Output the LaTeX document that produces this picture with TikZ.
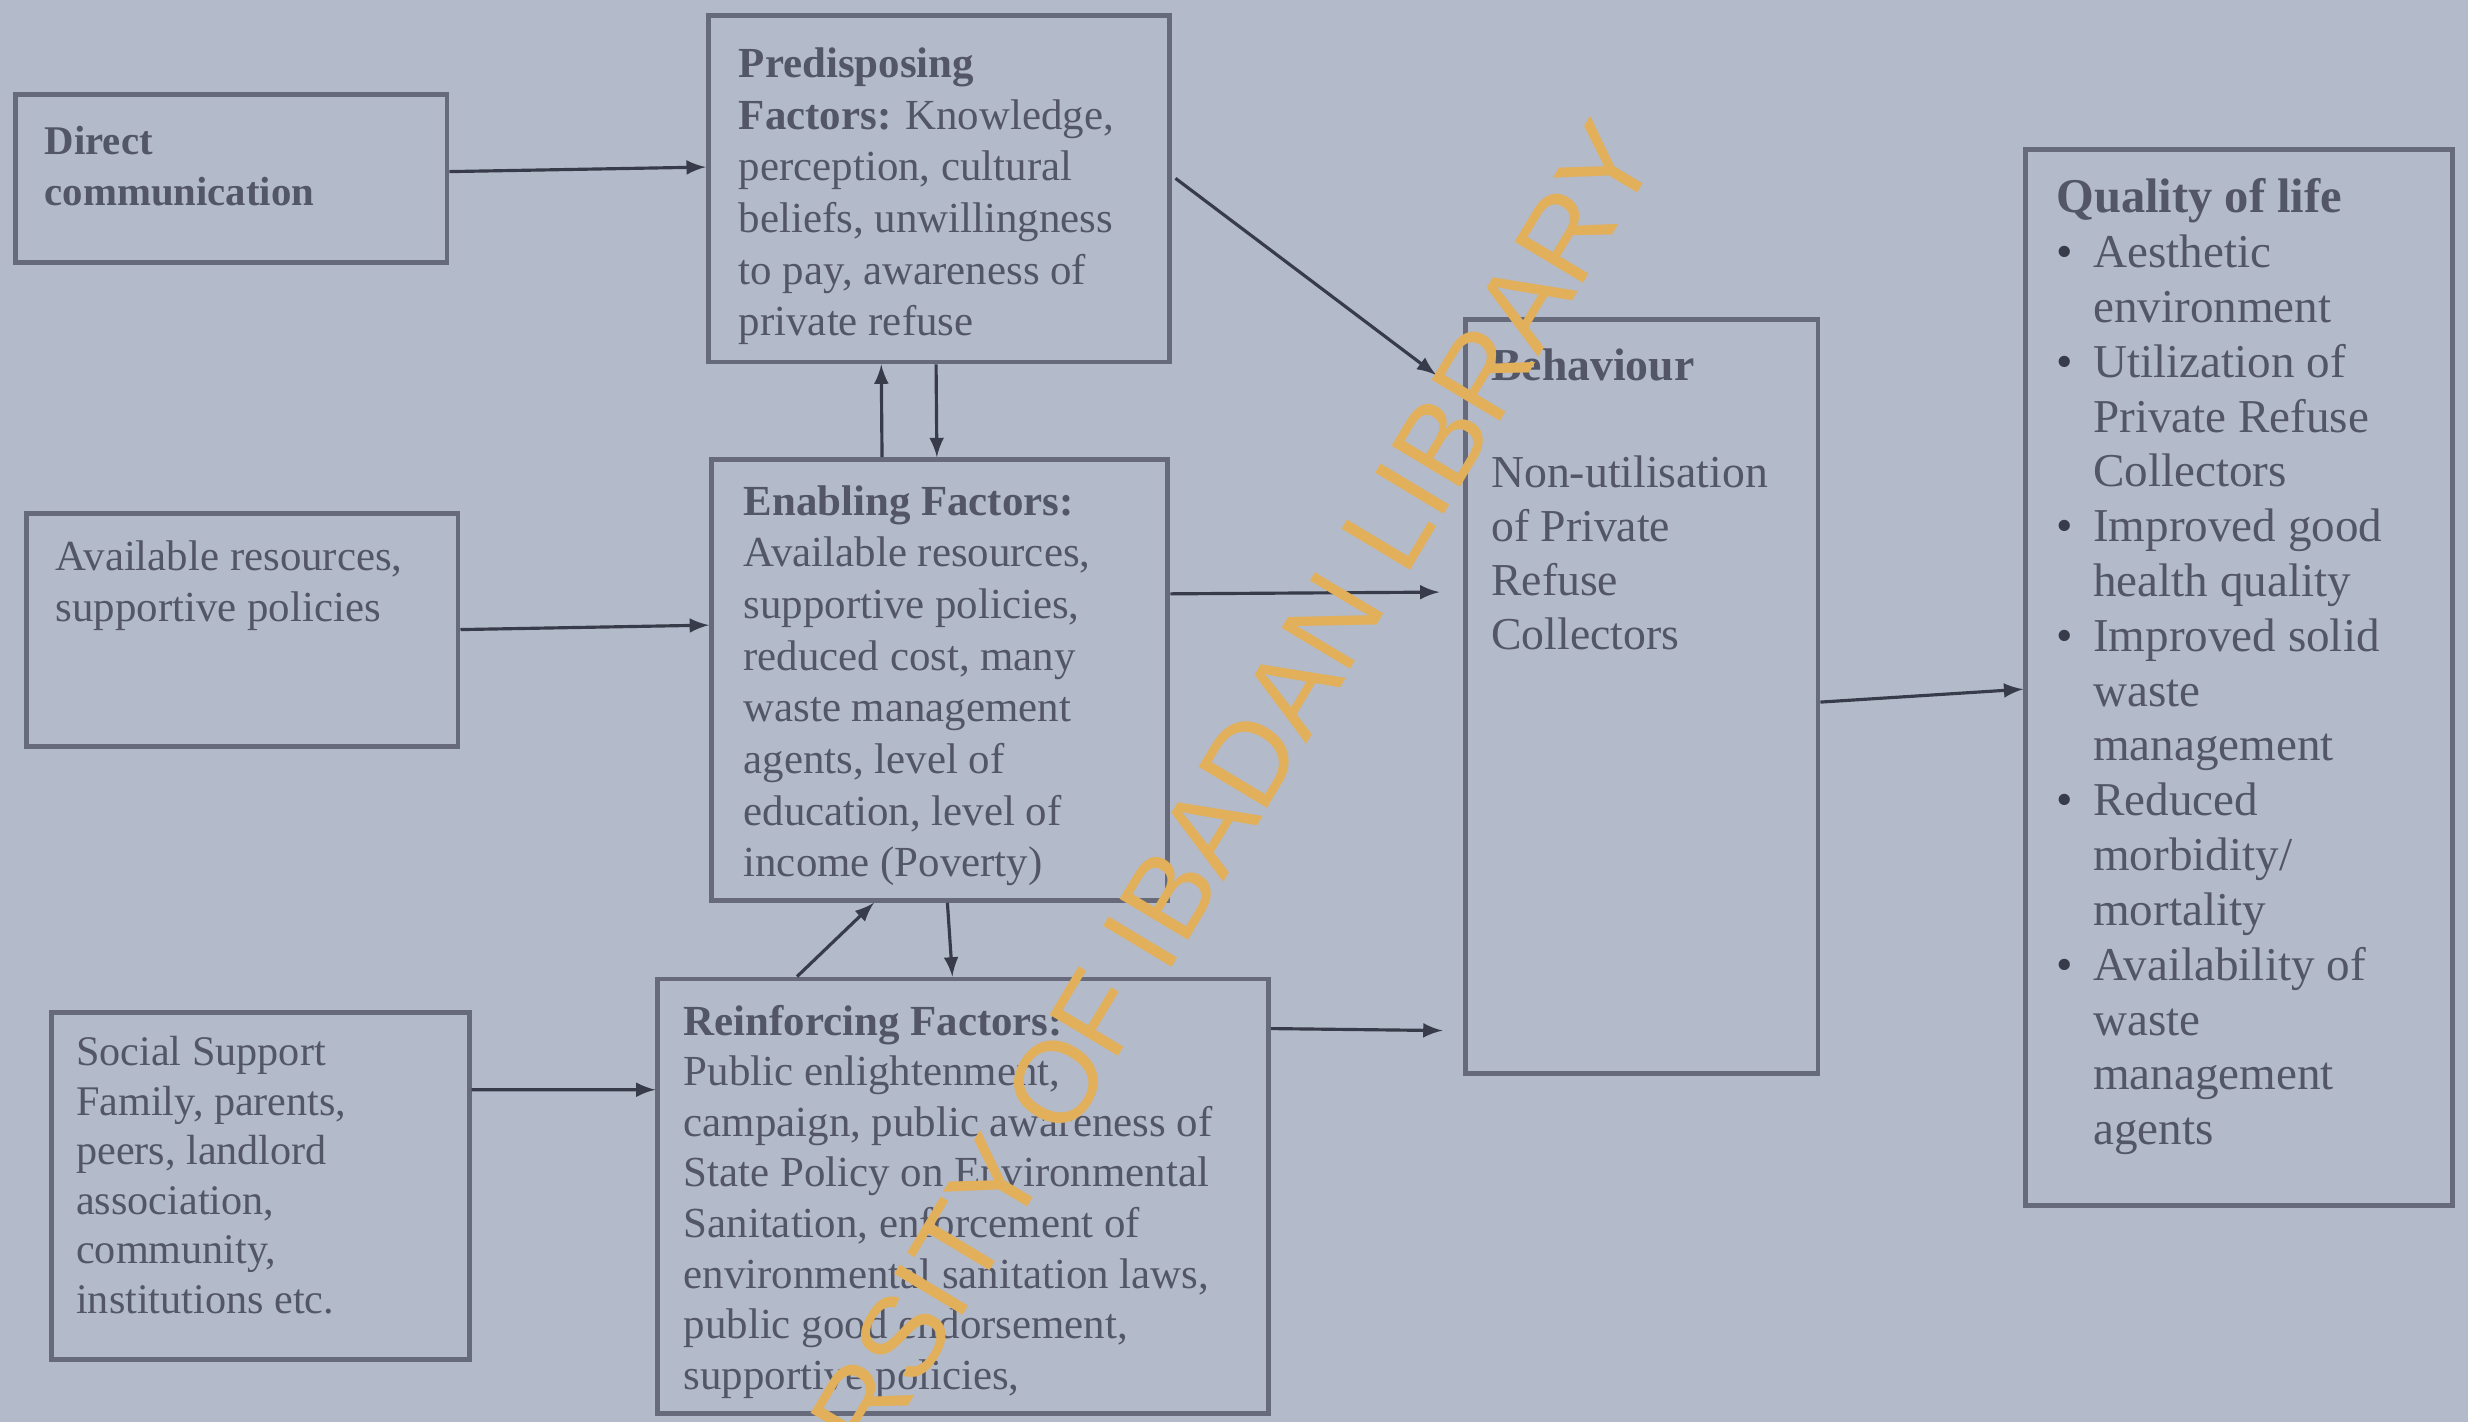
\documentclass[tikz,border=0pt]{standalone}
\usepackage{fontspec}
\setmainfont{Liberation Serif}
\newfontfamily\stampfont{Liberation Sans}
\usetikzlibrary{fit}
\definecolor{paper}{RGB}{179,186,202}
\definecolor{ink}{RGB}{82,86,102}
\definecolor{edge}{RGB}{102,106,122}
\definecolor{dark}{RGB}{56,59,74}
\definecolor{stamp}{RGB}{226,176,90}
\newcommand{\qlbul}{\makebox[10.5pt][l]{\textcolor{dark}{\textbullet}}}
\newcommand{\qlind}{\hspace*{10.5pt}}
\tikzset{every node/.style={inner sep=0pt}}
\tikzset{box/.style={draw=edge,line width=1.4pt,rectangle}}
\tikzset{txt/.style={anchor=north west,align=left,text=ink,font=\fontsize{12.2}{14.7}\selectfont}}
\tikzset{big/.style={txt,font=\fontsize{13}{15.3}\selectfont}}
\tikzset{a/.style={dark,line width=0.9pt,->,>=latex}}

\begin{document}
\begin{tikzpicture}[x=1.574cm,y=-1.574cm]
  \useasboundingbox (0,0) rectangle (15.68,9.034);
  \fill[paper] (0,0) rectangle (15.68,9.034);
  \clip (0,0) rectangle (15.68,9.034);
  % boxes
  \node[box,fit={(0.10,0.60) (2.84,1.67)}] (dc) {};
  \node[box,fit={(4.50,0.10) (7.43,2.30)}] (pr) {};
  \node[box,fit={(0.17,3.26) (2.91,4.74)}] (av) {};
  \node[box,fit={(4.52,2.92) (7.42,5.72)}] (en) {};
  \node[box,fit={(0.33,6.43) (2.98,8.64)}] (ss) {};
  \node[box,fit={(4.18,6.22) (8.06,8.98)}] (rf) {};
  \node[box,fit={(9.31,2.03) (11.55,6.82)}] (bh) {};
  \node[box,fit={(12.87,0.95) (15.58,7.66)}] (ql) {};
  % texts
  \node[txt,font=\bfseries\fontsize{11.6}{14.3}\selectfont] (dct) at (0.28,0.80) {Direct\\communication};
  \node[txt] (prt) at (4.69,0.30) {\textbf{Predisposing}\\\textbf{Factors:} Knowledge,\\perception, cultural\\beliefs, unwillingness\\to pay, awareness of\\private refuse};
  \node[txt] (avt) at (0.35,3.43) {Available resources,\\supportive policies};
  \node[txt] (ent) at (4.72,3.08) {\textbf{Enabling Factors:}\\Available resources,\\supportive policies,\\reduced cost, many\\waste management\\agents, level of\\education, level of\\income (Poverty)};
  \node[txt,font=\fontsize{12}{14.1}\selectfont] (sst) at (0.48,6.58) {Social Support\\Family, parents,\\peers, landlord\\association,\\community,\\institutions etc.};
  \node[txt,font=\fontsize{12.2}{14.4}\selectfont] (rft) at (4.34,6.38) {\textbf{Reinforcing Factors:}\\Public enlightenment,\\campaign, public awareness of\\State Policy on Environmental\\Sanitation, enforcement of\\environmental sanitation laws,\\public good endorsement,\\supportive policies,};
  \node[big] (bht) at (9.47,2.21) {\textbf{Behaviour}\\[15.3pt]Non-utilisation\\of Private\\Refuse\\Collectors};
  \node[big,font=\fontsize{13.4}{15.6}\selectfont] (qlt) at (13.06,1.13) {\textbf{\fontsize{13.8}{15.6}\selectfont Quality of life}\\
    \qlbul Aesthetic\\\qlind environment\\
    \qlbul Utilization of\\\qlind Private Refuse\\\qlind Collectors\\
    \qlbul Improved good\\\qlind health quality\\
    \qlbul Improved solid\\\qlind waste\\\qlind management\\
    \qlbul Reduced\\\qlind morbidity/\\\qlind mortality\\
    \qlbul Availability of\\\qlind waste\\\qlind management\\\qlind agents};
  % connectors
  \draw[a] ([yshift=2pt]dc.east) -- ([yshift=6.2pt]pr.west);
  \draw[a] (av.east) -- ([yshift=15.6pt]en.west);
  \draw[a] ([yshift=27.4pt]ss.east) -- ([yshift=30.3pt]rf.west);
  \draw[a] ([shift={(1pt,3pt)}]pr.east) -- ([shift={(-7.6pt,-16.5pt)}]bh.north west);
  \draw[a] ([yshift=24.5pt]en.east) -- ([shift={(-6.7pt,29.7pt)}]bh.west);
  \draw[a] ([yshift=47.7pt]rf.east) -- ([shift={(-5.8pt,12.9pt)}]bh.south west);
  \draw[a] ([yshift=-1.6pt]bh.east) -- ([yshift=-3.3pt]ql.west);
  \draw[a] ([xshift=-16.4pt]en.north) -- ([xshift=-16.4pt]pr.south);
  \draw[a] ([xshift=-0.8pt]pr.south) -- ([xshift=-0.8pt]en.north);
  \draw[a] ([xshift=-47.3pt]rf.north) -- ([xshift=-18.7pt]en.south);
  \draw[a] ([xshift=2.2pt]en.south) -- ([xshift=-3.1pt]rf.north);
  % stamp
  \node[rotate=59,anchor=base east,text=stamp,font=\stampfont\fontsize{33}{33}\selectfont] (wm) at (10.55,0.98) {UNIVERSITY OF IBADAN LIBRARY};
\end{tikzpicture}
\end{document}
